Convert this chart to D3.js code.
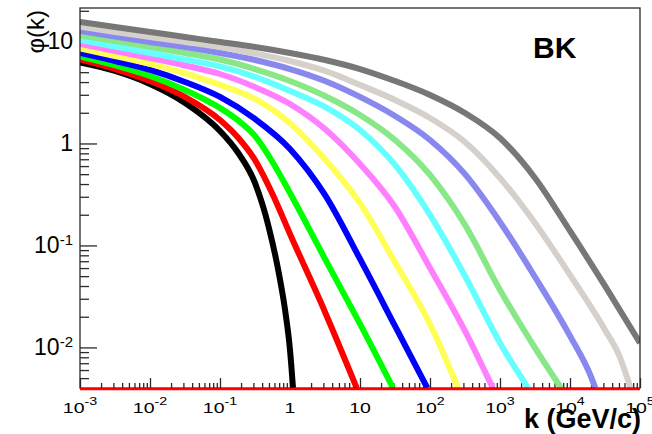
<!DOCTYPE html>
<html>
<head>
<meta charset="utf-8">
<script src="https://cdn.jsdelivr.net/npm/d3@7"></script>
<style>
  html, body { margin: 0; padding: 0; background: #fff; }
  svg { display: block; font-family: "Liberation Sans", Arial, Helvetica, sans-serif; }
</style>
</head>
<body>
<svg id="chart" width="652" height="434"></svg>
<script>
// Unintegrated gluon distribution phi(k) from BK evolution, one curve per rapidity step.
// Each curve: transverse momenta k (GeV/c) and the matching phi(k) values.
const kBlack   = [0.001, 0.00316, 0.01, 0.0316, 0.1, 0.178, 0.316, 0.5, 0.7, 0.85, 1, 1.104];
const phiBlack = [6.22, 5.14, 3.83, 2.50, 1.326, 0.8254, 0.41, 0.1484, 0.0514, 0.02332, 0.00945, 0.00401];

const kRed   = [0.001, 0.00316, 0.01, 0.0316, 0.1, 0.178, 0.316, 0.562, 1, 3.16, 8.97];
const phiRed = [6.66, 5.37, 4.10, 2.86, 1.70, 1.158, 0.6892, 0.320, 0.1296, 0.02228, 0.00401];

const kGreen   = [0.001, 0.00316, 0.01, 0.0316, 0.1, 0.178, 0.316, 0.562, 1, 3.16, 10, 29.6];
const phiGreen = [7.13, 5.82, 4.59, 3.35, 2.23, 1.70, 1.184, 0.6587, 0.3270, 0.07376, 0.0170, 0.00401];

const kBlue   = [0.001, 0.00316, 0.01, 0.0316, 0.1, 0.316, 1, 3.16, 10, 31.6, 91.5];
const phiBlue = [7.72, 6.44, 5.26, 4.01, 2.86, 1.739, 0.8833, 0.3127, 0.07376, 0.01625, 0.00401];

const kYellow   = [0.001, 0.00316, 0.01, 0.0316, 0.1, 0.316, 1, 3.16, 10, 31.6, 100, 251];
const phiYellow = [8.54, 7.21, 6.02, 4.86, 3.75, 2.73, 1.581, 0.7017, 0.2599, 0.0686, 0.01692, 0.00401];

const kMagenta   = [0.001, 0.00316, 0.01, 0.0316, 0.1, 0.316, 1, 3.16, 10, 31.6, 100, 316, 787];
const phiMagenta = [9.45, 8.07, 6.89, 5.82, 4.80, 3.58, 2.44, 1.387, 0.6295, 0.2384, 0.06017, 0.01451, 0.00401];

const kCyan   = [0.001, 0.00316, 0.01, 0.0316, 0.1, 0.316, 1, 3.16, 10, 31.6, 100, 316, 1000, 2512];
const phiCyan = [10.34, 8.93, 7.72, 6.66, 5.69, 4.49, 3.27, 2.28, 1.356, 0.6154, 0.1991, 0.05023, 0.01107, 0.00401];

const kLightGreen   = [0.001, 0.00316, 0.01, 0.0316, 0.1, 0.316, 1, 3.16, 10, 31.6, 100, 316, 1000, 3162, 7430];
const phiLightGreen = [11.45, 10.11, 8.83, 7.72, 6.66, 5.37, 4.10, 2.92, 1.903, 1.082, 0.4912, 0.1589, 0.03663, 0.00989, 0.00401];

const kLightBlue   = [0.001, 0.00316, 0.01, 0.0316, 0.1, 0.316, 1, 3.16, 10, 31.6, 100, 316, 1000, 3162, 1e4, 2e4, 22960];
const phiLightBlue = [12.68, 11.19, 9.89, 8.83, 7.72, 6.59, 5.37, 4.10, 2.86, 1.86, 1.082, 0.500, 0.170, 0.0491, 0.01296, 0.00514, 0.00401];

const kBeige   = [0.001, 0.00316, 0.01, 0.0316, 0.1, 0.316, 1, 3.16, 10, 31.6, 100, 316, 1000, 3162, 1e4, 31623, 5e4, 73080];
const phiBeige = [14.03, 12.39, 11.07, 9.89, 8.83, 7.63, 6.44, 5.14, 3.75, 2.67, 1.778, 1.034, 0.459, 0.1662, 0.0514, 0.01484, 0.00844, 0.00401];

const kGray   = [0.001, 0.00316, 0.01, 0.0316, 0.1, 0.316, 1, 3.16, 10, 31.6, 100, 316, 1000, 3162, 1e4, 31623, 1e5];
const phiGray = [15.53, 13.87, 12.39, 11.07, 9.89, 8.83, 7.72, 6.59, 5.37, 4.10, 2.99, 1.99, 1.13, 0.459, 0.1388, 0.0401, 0.01107];

const curveK   = [kBlack, kRed, kGreen, kBlue, kYellow, kMagenta, kCyan, kLightGreen, kLightBlue, kBeige, kGray];
const curvePhi = [phiBlack, phiRed, phiGreen, phiBlue, phiYellow, phiMagenta, phiCyan, phiLightGreen, phiLightBlue, phiBeige, phiGray];
const curveColors = ["#000000", "#ff0000", "#00ff00", "#0000ff", "#ffff55", "#ff7fff",
                     "#66ffff", "#88e888", "#8888ee", "#d6d0ca", "#777777"];

// Axis ticks and their labels (base, exponent)
const xMajorTicks = [1e-3, 1e-2, 1e-1, 1, 10, 1e2, 1e3, 1e4, 1e5];
const xTickLabels = [["10", "-3"], ["10", "-2"], ["10", "-1"], ["1", ""], ["10", ""],
                     ["10", "2"], ["10", "3"], ["10", "4"], ["10", "5"]];
const yMajorTicks = [0.01, 0.1, 1, 10];
const yTickLabels = [["10", "-2"], ["10", "-1"], ["1", ""], ["10", ""]];

const xTitle = "k (GeV/c)";
const yTitle = "\u03c6(k)";
const panelLabel = "BK";

// ---- layout ----
const frame = { left: 80, right: 640, top: 8, bottom: 388 };
const x = d3.scaleLog().domain([1e-3, 1e5]).range([frame.left, frame.right]);
const y = d3.scaleLog().domain([0.004, 21.3]).range([frame.bottom, frame.top]);

const svg = d3.select("#chart");

// minor tick values: 2..9 times each power of ten, inside the domain
function minorTicks(scale) {
  const [a, b] = scale.domain();
  const out = [];
  for (let e = Math.floor(Math.log10(a)); e <= Math.ceil(Math.log10(b)); e++) {
    for (let m = 2; m <= 9; m++) {
      const v = m * Math.pow(10, e);
      if (v > a * 1.0001 && v < b * 0.9999) out.push(v);
    }
  }
  return out;
}

const axisColor = "#2a2a2a";
function styleAxis(g) {
  g.select(".domain").remove();
  g.selectAll(".tick line").attr("stroke", axisColor).attr("stroke-width", 1.3);
  g.selectAll(".tick text").remove();
}

// y axis ticks (pointing into the frame)
svg.append("g").attr("transform", `translate(${frame.left},0)`)
  .call(d3.axisLeft(y).tickValues(minorTicks(y)).tickSize(-9).tickFormat(""))
  .call(styleAxis);
svg.append("g").attr("transform", `translate(${frame.left},0)`)
  .call(d3.axisLeft(y).tickValues(yMajorTicks).tickSize(-17).tickFormat(""))
  .call(styleAxis);

// x axis ticks (pointing into the frame)
svg.append("g").attr("transform", `translate(0,${frame.bottom})`)
  .call(d3.axisBottom(x).tickValues(minorTicks(x)).tickSize(-5).tickFormat(""))
  .call(styleAxis);
svg.append("g").attr("transform", `translate(0,${frame.bottom})`)
  .call(d3.axisBottom(x).tickValues(xMajorTicks).tickSize(-10).tickFormat(""))
  .call(styleAxis);

// curves
svg.append("clipPath").attr("id", "plot-clip")
  .append("rect")
  .attr("x", frame.left).attr("y", frame.top)
  .attr("width", frame.right - frame.left).attr("height", frame.bottom - frame.top);

const line = d3.line()
  .x(d => x(d[0]))
  .y(d => y(d[1]))
  .curve(d3.curveMonotoneX);

const curves = svg.append("g").attr("clip-path", "url(#plot-clip)");
curveK.forEach((ks, i) => {
  const pts = ks.map((k, j) => [k, curvePhi[i][j]]);
  curves.append("path")
    .datum(pts)
    .attr("d", line)
    .attr("fill", "none")
    .attr("stroke", curveColors[i])
    .attr("stroke-width", 6)
    .attr("stroke-linejoin", "round");
});

// frame
svg.append("rect")
  .attr("x", frame.left).attr("y", frame.top)
  .attr("width", frame.right - frame.left).attr("height", frame.bottom - frame.top)
  .attr("fill", "none").attr("stroke", axisColor).attr("stroke-width", 1.3);

// phi = 0 level along the lower edge
svg.append("line")
  .attr("x1", x(1e-3)).attr("x2", x(1e5))
  .attr("y1", frame.bottom + 1.2).attr("y2", frame.bottom + 1.2)
  .attr("stroke", "#ff0000").attr("stroke-width", 2.2);

// y tick labels
yMajorTicks.forEach((v, i) => {
  const [base, exp] = yTickLabels[i];
  const t = svg.append("text")
    .attr("x", 73).attr("y", y(v) + 8)
    .attr("text-anchor", "end")
    .attr("font-size", 23)
    .attr("fill", "#000");
  t.append("tspan").text(base);
  if (exp) t.append("tspan").attr("dy", -8).attr("font-size", 15).text(exp);
});

// x tick labels
xMajorTicks.forEach((v, i) => {
  const [base, exp] = xTickLabels[i];
  const g = svg.append("g").attr("transform", `translate(${x(v)},413) scale(1.3,1)`);
  const t = g.append("text")
    .attr("x", 0).attr("y", 0)
    .attr("text-anchor", "middle")
    .attr("font-size", 15)
    .attr("fill", "#000");
  t.append("tspan").text(base);
  if (exp) t.append("tspan").attr("dy", -8).attr("font-size", 11).text(exp);
});

// axis titles and panel label
svg.append("text")
  .attr("x", 641).attr("y", 428)
  .attr("text-anchor", "end")
  .attr("font-size", 27).attr("font-weight", "bold")
  .attr("fill", "#000")
  .text(xTitle);

svg.append("text")
  .attr("transform", "translate(44,10) rotate(-90)")
  .attr("text-anchor", "end")
  .attr("font-size", 24)
  .attr("fill", "#000")
  .text(yTitle);

svg.append("text")
  .attr("x", 533).attr("y", 58)
  .attr("font-size", 30).attr("font-weight", "bold")
  .attr("fill", "#000")
  .text(panelLabel);
</script>
</body>
</html>
